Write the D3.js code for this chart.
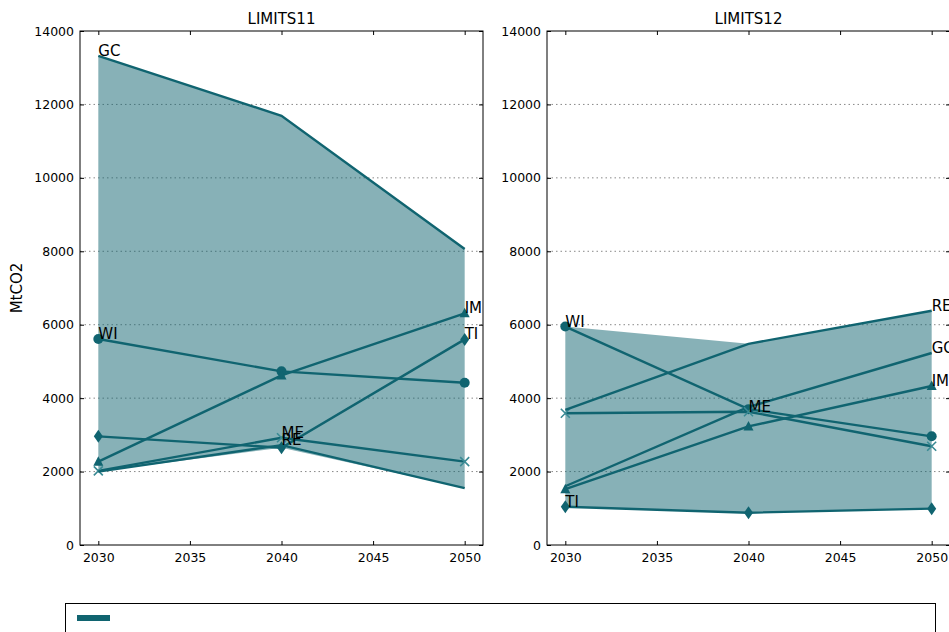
<!DOCTYPE html>
<html>
<head>
<meta charset="utf-8">
<script src="https://cdn.jsdelivr.net/npm/d3@7"></script>
<style>
  body { margin: 0; background: #fff; }
  svg { display: block; font-family: "DejaVu Sans", sans-serif; }
</style>
</head>
<body>
<div id="chart"></div>
<script>
// data
const years = [2030, 2040, 2050];
const seriesNames = ['GC', 'WI', 'IM', 'TI', 'ME', 'RE'];
const seriesMarkers = ['none', 'circle', 'triangle', 'diamond', 'x', 'none'];
const yTicks = [0, 2000, 4000, 6000, 8000, 10000, 12000, 14000];
const xTicks = [2030, 2035, 2040, 2045, 2050];

// LIMITS11
const l11GC = [13320, 11690, 8060];
const l11WI = [5610, 4730, 4420];
const l11IM = [2270, 4620, 6310];
const l11TI = [2960, 2650, 5600];
const l11ME = [2020, 2920, 2270];
const l11RE = [2000, 2720, 1550];

// LIMITS12
const l12GC = [1600, 3760, 5230];
const l12WI = [5950, 3700, 2960];
const l12IM = [1520, 3230, 4330];
const l12TI = [1040, 880, 990];
const l12ME = [3590, 3630, 2690];
const l12RE = [3680, 5480, 6380];

const panels = [
  { title: 'LIMITS11', left: 80, series: [l11GC, l11WI, l11IM, l11TI, l11ME, l11RE] },
  { title: 'LIMITS12', left: 547, series: [l12GC, l12WI, l12IM, l12TI, l12ME, l12RE] }
];

const W = 949, H = 632;
const plotTop = 31, plotBottom = 545, panelW = 403;
const lineColor = '#106470';

const svg = d3.select('#chart').append('svg')
  .attr('width', W).attr('height', H);

// y axis label
svg.append('text')
  .attr('transform', `translate(22,${(plotTop + plotBottom) / 2}) rotate(-90)`)
  .attr('text-anchor', 'middle')
  .attr('font-size', 15)
  .text('MtCO2');

const y = d3.scaleLinear().domain([0, 14000]).range([plotBottom, plotTop]);

panels.forEach(p => {
  const x = d3.scaleLinear().domain([2029, 2051]).range([p.left, p.left + panelW]);
  const g = svg.append('g');

  // dotted grid
  g.selectAll('.grid').data(yTicks.slice(1, -1)).enter().append('line')
    .attr('x1', p.left).attr('x2', p.left + panelW)
    .attr('y1', d => y(d)).attr('y2', d => y(d))
    .attr('stroke', '#888').attr('stroke-width', 1)
    .attr('stroke-dasharray', '1.5,3');

  // envelope fill between min and max
  const env = years.map((yr, i) => ({
    yr,
    lo: d3.min(p.series, s => s[i]),
    hi: d3.max(p.series, s => s[i])
  }));
  g.append('path').datum(env)
    .attr('d', d3.area().x(d => x(d.yr)).y0(d => y(d.lo)).y1(d => y(d.hi)))
    .attr('fill', lineColor).attr('fill-opacity', 0.5);

  const line = d3.line().x((d, i) => x(years[i])).y(d => y(d));

  p.series.forEach((s, k) => {
    g.append('path').datum(s)
      .attr('d', line)
      .attr('fill', 'none')
      .attr('stroke', lineColor).attr('stroke-width', 2.4);

    const m = seriesMarkers[k];
    if (m === 'none') return;
    const pts = g.selectAll(null).data(s).enter();
    if (m === 'circle') {
      pts.append('circle')
        .attr('cx', (d, i) => x(years[i])).attr('cy', d => y(d)).attr('r', 5)
        .attr('fill', lineColor);
    } else if (m === 'triangle') {
      pts.append('path')
        .attr('transform', (d, i) => `translate(${x(years[i])},${y(d)})`)
        .attr('d', 'M0,-5.5 L5,4 L-5,4 Z')
        .attr('fill', lineColor);
    } else if (m === 'diamond') {
      pts.append('path')
        .attr('transform', (d, i) => `translate(${x(years[i])},${y(d)})`)
        .attr('d', 'M0,-6.5 L4.5,0 L0,6.5 L-4.5,0 Z')
        .attr('fill', lineColor);
    } else if (m === 'x') {
      pts.append('path')
        .attr('transform', (d, i) => `translate(${x(years[i])},${y(d)})`)
        .attr('d', 'M-4.5,-4.5 L4.5,4.5 M-4.5,4.5 L4.5,-4.5')
        .attr('stroke', '#3a8a94').attr('stroke-width', 1.6);
    }
  });

  // series labels at each series' highest point
  p.series.forEach((s, k) => {
    const i = d3.maxIndex(s);
    g.append('text')
      .attr('x', x(years[i])).attr('y', y(s[i]))
      .attr('font-size', 15)
      .text(seriesNames[k]);
  });

  // axes with inward ticks
  const xAxis = d3.axisBottom(x).tickValues(xTicks).tickFormat(d3.format('d'))
    .tickSizeInner(-4).tickSizeOuter(0).tickPadding(8);
  const xAxisTop = d3.axisTop(x).tickValues(xTicks).tickFormat('')
    .tickSizeInner(-4).tickSizeOuter(0);
  const yAxis = d3.axisLeft(y).tickValues(yTicks).tickFormat(d3.format('d'))
    .tickSizeInner(-4).tickSizeOuter(0).tickPadding(6);
  const yAxisRight = d3.axisRight(y).tickValues(yTicks).tickFormat('')
    .tickSizeInner(-4).tickSizeOuter(0);

  [
    g.append('g').attr('transform', `translate(0,${plotBottom})`).call(xAxis),
    g.append('g').attr('transform', `translate(0,${plotTop})`).call(xAxisTop),
    g.append('g').attr('transform', `translate(${p.left},0)`).call(yAxis),
    g.append('g').attr('transform', `translate(${p.left + panelW},0)`).call(yAxisRight)
  ].forEach(a => {
    a.select('.domain').remove();
    a.selectAll('text').attr('font-size', 12.5).attr('fill', '#000')
      .attr('font-family', '"DejaVu Sans", sans-serif');
    a.selectAll('.tick line').attr('stroke', '#000');
  });

  g.append('rect')
    .attr('x', p.left).attr('y', plotTop)
    .attr('width', panelW).attr('height', plotBottom - plotTop)
    .attr('fill', 'none').attr('stroke', '#000').attr('stroke-width', 1);

  g.append('text')
    .attr('x', p.left + panelW / 2).attr('y', plotTop - 7)
    .attr('text-anchor', 'middle').attr('font-size', 15)
    .text(p.title);
});

// legend box (cut off by the bottom edge)
svg.append('rect')
  .attr('x', 65.5).attr('y', 603.5).attr('width', 870).attr('height', 60)
  .attr('fill', '#fff').attr('stroke', '#000').attr('stroke-width', 1);
svg.append('rect')
  .attr('x', 77).attr('y', 615).attr('width', 33).attr('height', 6)
  .attr('fill', lineColor);
</script>
</body>
</html>
